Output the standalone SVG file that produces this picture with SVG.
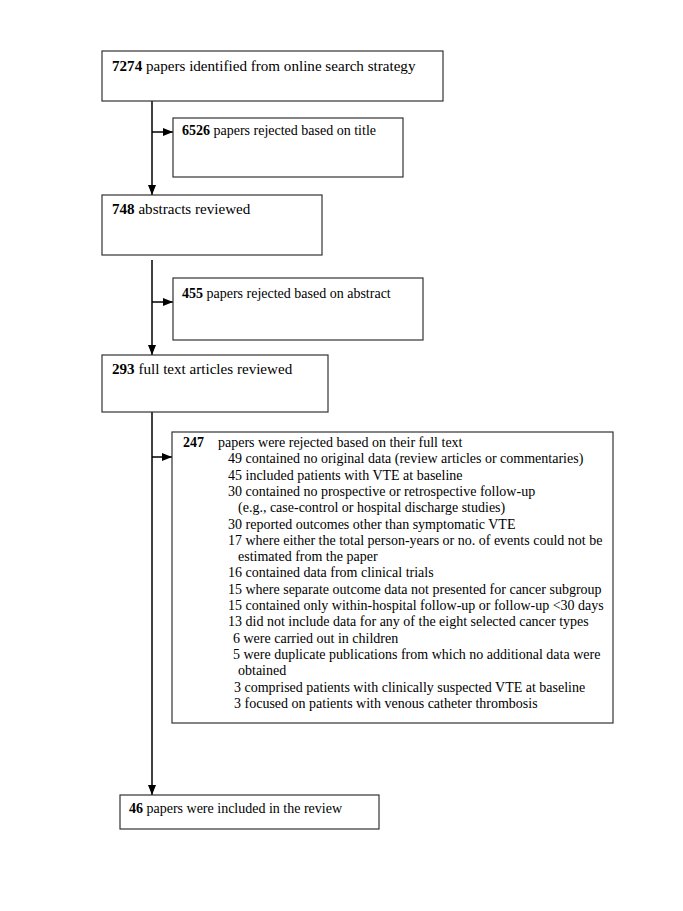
<svg xmlns="http://www.w3.org/2000/svg" width="683" height="911" viewBox="0 0 683 911">
<style>
.box{fill:#fff;stroke:#333;stroke-width:1.2}
.t{font-family:"Liberation Serif","Times New Roman",serif;font-size:14px;fill:#000}
.L{font-size:15.1px}
.b{font-weight:bold}
.c{stroke:#000;stroke-width:1.5;fill:none}
</style>
<defs>
<marker id="ah" markerUnits="userSpaceOnUse" markerWidth="10" markerHeight="10" viewBox="0 0 10 10" refX="10" refY="5" orient="auto">
<path d="M0,1 L10,5 L0,9 Z" fill="#000"/>
</marker>
</defs>
<rect width="683" height="911" fill="#fff"/>
<g id="connectors">
<line class="c" x1="152" y1="101" x2="152" y2="195" marker-end="url(#ah)"/>
<line class="c" x1="152" y1="132" x2="173" y2="132" marker-end="url(#ah)"/>
<line class="c" x1="152" y1="260" x2="152" y2="355" marker-end="url(#ah)"/>
<line class="c" x1="152" y1="302" x2="173" y2="302" marker-end="url(#ah)"/>
<line class="c" x1="152" y1="412" x2="152" y2="795" marker-end="url(#ah)"/>
<line class="c" x1="152" y1="457" x2="172" y2="457" marker-end="url(#ah)"/>
</g>
<g id="n1">
<rect class="box" x="102" y="51" width="341" height="50"/>
<text class="t L" x="112" y="71"><tspan class="b">7274</tspan> papers identified from online search strategy</text>
</g>
<g id="n2">
<rect class="box" x="173" y="118" width="230" height="59"/>
<text class="t" x="182" y="135"><tspan class="b">6526</tspan> papers rejected based on title</text>
</g>
<g id="n3">
<rect class="box" x="102" y="195" width="220" height="60"/>
<text class="t L" x="112" y="214"><tspan class="b">748</tspan> abstracts reviewed</text>
</g>
<g id="n4">
<rect class="box" x="173" y="278" width="250" height="62"/>
<text class="t" x="182" y="298"><tspan class="b">455</tspan> papers rejected based on abstract</text>
</g>
<g id="n5">
<rect class="box" x="102" y="355" width="226" height="57"/>
<text class="t L" x="112" y="374"><tspan class="b">293</tspan> full text articles reviewed</text>
</g>
<g id="n6">
<rect class="box" x="172" y="432" width="441" height="291"/>
<text class="t" x="183" y="447" font-weight="bold">247</text>
<text class="t" x="218" y="447">papers were rejected based on their full text</text>
<text class="t" x="228" y="463.3">49 contained no original data (review articles or commentaries)</text>
<text class="t" x="228" y="479.6">45 included patients with VTE at baseline</text>
<text class="t" x="228" y="495.9">30 contained no prospective or retrospective follow-up</text>
<text class="t" x="238" y="512.2">(e.g., case-control or hospital discharge studies)</text>
<text class="t" x="228" y="528.5">30 reported outcomes other than symptomatic VTE</text>
<text class="t" x="228" y="544.8">17 where either the total person-years or no. of events could not be</text>
<text class="t" x="238" y="561.1">estimated from the paper</text>
<text class="t" x="228" y="577.4">16 contained data from clinical trials</text>
<text class="t" x="228" y="593.7">15 where separate outcome data not presented for cancer subgroup</text>
<text class="t" x="228" y="610">15 contained only within-hospital follow-up or follow-up &lt;30 days</text>
<text class="t" x="228" y="626.3">13 did not include data for any of the eight selected cancer types</text>
<text class="t" x="233" y="642.6">6 were carried out in children</text>
<text class="t" x="233" y="658.9">5 were duplicate publications from which no additional data were</text>
<text class="t" x="238" y="675.2">obtained</text>
<text class="t" x="234" y="691.5">3 comprised patients with clinically suspected VTE at baseline</text>
<text class="t" x="234" y="707.8">3 focused on patients with venous catheter thrombosis</text>
</g>
<g id="n7">
<rect class="box" x="120" y="795" width="259" height="34"/>
<text class="t" x="129" y="813"><tspan class="b">46</tspan> papers were included in the review</text>
</g>
</svg>
